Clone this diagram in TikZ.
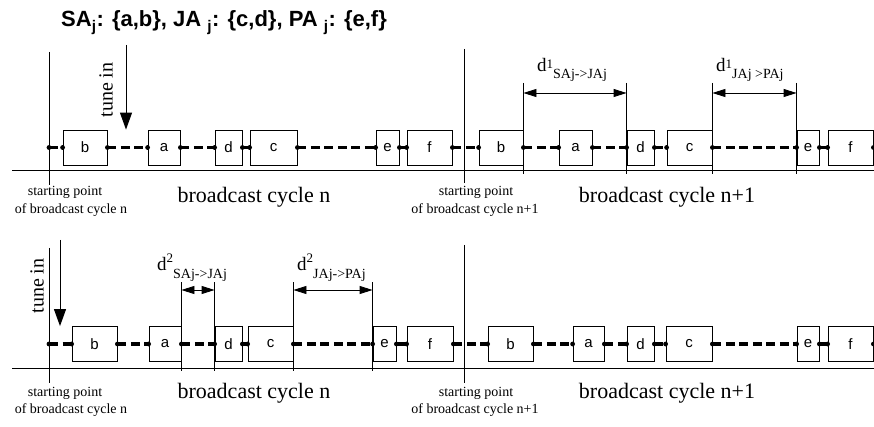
\documentclass[tikz,border=0pt]{standalone}
\usepackage{fontspec}
\setmainfont{Liberation Serif}
\newfontfamily\arialfont{Liberation Sans}
\usetikzlibrary{arrows.meta,calc}

% delay label: d, superscript, subscript (raise of sup, drop of sub)
\newcommand\dmark[4]{{\fontsize{19}{19}\selectfont d}\raisebox{#3}{\fontsize{13}{13}\selectfont #1}\raisebox{-#4}{\fontsize{14}{14}\selectfont #2}}

\begin{document}
\begin{tikzpicture}[x=1pt,y=-1pt,
  blk/.style={draw, line width=0.8pt, minimum height=35pt, inner sep=0pt, fill=white,
    font=\arialfont\fontsize{15}{15}\selectfont},
  chain/.style={line width=3.6pt, dash pattern=on 9pt off 4.5pt},
  dot/.style={fill=black},
  thin/.style={line width=0.9pt},
  dim/.style={line width=0.8pt, {Triangle[length=13pt,width=8pt]}-{Triangle[length=13pt,width=8pt]}},
  tune/.style={line width=1pt, -{Triangle[length=17pt,width=12pt]}},
  cyc/.style={font=\fontsize{22}{22}\selectfont, inner sep=0pt},
  small/.style={font=\fontsize{14}{14}\selectfont, inner sep=0pt},
  lab/.style={anchor=base west, inner sep=0pt},
]
\useasboundingbox (0,0) rectangle (874,427);

% title
\node[anchor=base west, inner sep=0pt, font=\arialfont\bfseries\fontsize{22}{22}\selectfont] (title) at (61,27)
  {SA\textsubscript{j}: \{a,b\}, JA \textsubscript{j}: \{c,d\}, PA \textsubscript{j}: \{e,f\}};

% ---------------- upper timeline ----------------
\draw[line width=1pt] (12,171) -- (874,171);
\draw[thin] (49,52) -- (49,185);
\draw[thin] (464,49) -- (464,183);
\coordinate (s1) at (49,147.5);
\coordinate (e1) at (880,147.5);

\node[blk, minimum width=44pt] (tb)  at (85,147.5)  {b};
\node[blk, minimum width=32pt] (ta)  at (164,147.5) {a};
\node[blk, minimum width=27pt] (td)  at (228.5,147.5) {d};
\node[blk, minimum width=47pt] (tc)  at (273.5,147.5) {c};
\node[blk, minimum width=23pt] (te)  at (387.5,147.5) {e};
\node[blk, minimum width=45pt] (tf)  at (429.5,147.5) {f};
\node[blk, minimum width=44pt] (tb2) at (501,147.5) {b};
\node[blk, minimum width=33pt] (ta2) at (575.5,147.5) {a};
\node[blk, minimum width=27pt] (td2) at (640.5,147.5) {d};
\node[blk, minimum width=45pt] (tc2) at (689.5,147.5) {c};
\node[blk, minimum width=22pt] (te2) at (808,147.5) {e};
\node[blk, minimum width=45pt] (tf2) at (850.5,147.5) {f};

\foreach \u/\v in {s1/tb, tb/ta, ta/td, td/tc, tc/te, te/tf, tf/tb2, tb2/ta2, ta2/td2, td2/tc2, tc2/te2, te2/tf2}{
  \draw[chain] (\u.east) -- (\v.west);
  \fill[dot] (\u.east) circle (2.4pt) (\v.west) circle (2.4pt);
}
\draw[chain] (tf2.east) -- (e1);
\fill[dot] (tf2.east) circle (2.4pt);

% tune in (upper)
\coordinate (tu1) at (126,45);
\draw[tune] (tu1) -- (tu1 |- tb.north);
\node[rotate=90, font=\fontsize{20}{20}\selectfont, inner sep=0pt] (tunein1) at (106,90) {tune in};

% delays (upper)
\coordinate (m1t) at (0,83);
\coordinate (m1b) at (0,174);
\coordinate (m1a) at (0,93);
\foreach \n/\s in {tb2/east, td2/west, tc2/east, te2/west}
  \draw[thin] (\n.\s |- m1t) -- (\n.\s |- m1b);
\draw[dim] (tb2.east |- m1a) -- (td2.west |- m1a);
\draw[dim] (tc2.east |- m1a) -- (te2.west |- m1a);
\node[lab] (d1a) at (537,72) {\dmark{1}{SAj->JAj}{3pt}{7pt}};
\node[lab] (d1b) at (716,72) {\dmark{1}{JAj >PAj}{3pt}{7pt}};

% captions (upper)
\node[cyc] (cyc1n)  at (254,197) {broadcast cycle n};
\node[cyc] (cyc1n1) at (667,197) {broadcast cycle n+1};
\node[small] (sp1a) at (65,192)  {starting point};
\node[small] (sp1b) at (71,210)  {of broadcast cycle n};
\node[small] (sp1c) at (476,192) {starting point};
\node[small] (sp1d) at (475,210) {of broadcast cycle n+1};

% ---------------- lower timeline ----------------
\draw[line width=1pt] (12,368) -- (874,368);
\draw[thin] (49,248) -- (49,383);
\draw[thin] (464,245) -- (464,383);
\coordinate (s2) at (49,344);
\coordinate (e2) at (880,344);

\node[blk, minimum width=45pt] (bb)  at (94.5,344) {b};
\node[blk, minimum width=32pt] (ba)  at (165,344) {a};
\node[blk, minimum width=27pt] (bd)  at (228.5,344) {d};
\node[blk, minimum width=45pt] (bc)  at (270.5,344) {c};
\node[blk, minimum width=23pt] (be)  at (384.5,344) {e};
\node[blk, minimum width=46pt] (bf)  at (430,344) {f};
\node[blk, minimum width=45pt] (bb2) at (510.5,344) {b};
\node[blk, minimum width=31pt] (ba2) at (588.5,344) {a};
\node[blk, minimum width=27pt] (bd2) at (640.5,344) {d};
\node[blk, minimum width=46pt] (bc2) at (689,344) {c};
\node[blk, minimum width=22pt] (be2) at (808,344) {e};
\node[blk, minimum width=45pt] (bf2) at (850.5,344) {f};

\foreach \u/\v in {s2/bb, bb/ba, ba/bd, bd/bc, bc/be, be/bf, bf/bb2, bb2/ba2, ba2/bd2, bd2/bc2, bc2/be2, be2/bf2}{
  \draw[chain] (\u.east) -- (\v.west);
  \fill[dot] (\u.east) circle (2.4pt) (\v.west) circle (2.4pt);
}
\draw[chain] (bf2.east) -- (e2);
\fill[dot] (bf2.east) circle (2.4pt);

% tune in (lower)
\coordinate (tu2) at (60,240);
\draw[tune] (tu2) -- (tu2 |- bb.north);
\node[rotate=90, font=\fontsize{20}{20}\selectfont, inner sep=0pt] (tunein2) at (37,286) {tune in};

% delays (lower)
\coordinate (m2t) at (0,282);
\coordinate (m2b) at (0,371);
\coordinate (m2a) at (0,290);
\foreach \n/\s in {ba/east, bd/west, bc/east, be/west}
  \draw[thin] (\n.\s |- m2t) -- (\n.\s |- m2b);
\draw[dim] (ba.east |- m2a) -- (bd.west |- m2a);
\draw[dim] (bc.east |- m2a) -- (be.west |- m2a);
\node[lab] (d2a) at (157,270) {\dmark{2}{SAj->JAj}{8pt}{8pt}};
\node[lab] (d2b) at (297,270) {\dmark{2}{JAj->PAj}{8pt}{8pt}};

% captions (lower)
\node[cyc] (cyc2n)  at (254,393) {broadcast cycle n};
\node[cyc] (cyc2n1) at (667,393) {broadcast cycle n+1};
\node[small] (sp2a) at (65,393)  {starting point};
\node[small] (sp2b) at (71,410)  {of broadcast cycle n};
\node[small] (sp2c) at (476,393) {starting point};
\node[small] (sp2d) at (475,410) {of broadcast cycle n+1};
\end{tikzpicture}
\end{document}
